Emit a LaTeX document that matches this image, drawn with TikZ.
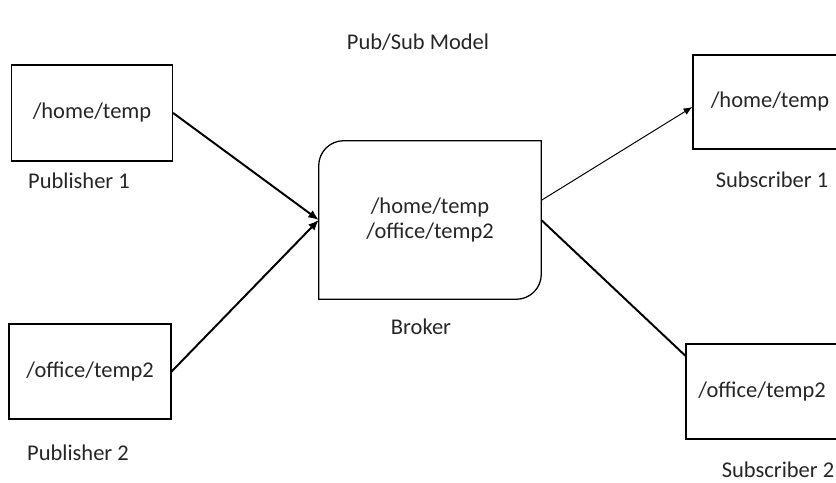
\documentclass[tikz,border=0pt]{standalone}
\usepackage{fontspec}
\setmainfont{Carlito}
\usepackage{tikz}
\usetikzlibrary{positioning,calc}
\usetikzlibrary{arrows.meta}
\tikzstyle{topic} = [rectangle, minimum width=4.05cm, minimum height=2.375cm, text centered, draw=black, line width=0.9pt]
\tikzstyle{brokerbox} = [rectangle, minimum width=5.55cm, minimum height=3.95cm, align=center]
\tikzstyle{etichetta} = [text centered]
\tikzstyle{arrow} = [line width=1.4pt,-{Latex[length=2.6mm,width=2.2mm]}]
\tikzstyle{thinarrow} = [line width=0.7pt,-{Latex[length=2.2mm,width=1.8mm]}]

\begin{document}
\begin{tikzpicture}[font=\fontsize{16}{17.8}\selectfont, text=black!85]
	\path[use as bounding box, clip] (0,0) rectangle (20.9,12.075);
	\node (title) at (10.45,11.025) [etichetta] {Pub/Sub Model};
	% publishers
	\node (pub1) at (2.3,9.25) [topic, minimum width=4.025cm, minimum height=2.4cm] {/home/temp};
	\node (pub1name) at (1.975,7.55) [etichetta] {Publisher 1};
	\node (pub2) at (2.25,2.7875) [topic] {/office/temp2};
	\node (pub2name) at (1.95,0.75) [etichetta] {Publisher 2};
	% broker
	\node (broker) at (10.75,6.575) [brokerbox] {/home/temp\\/office/temp2};
	\draw[line width=0.9pt] ([yshift=-0.625cm]broker.north west) arc[start angle=180,end angle=90,radius=0.625cm] -- (broker.north east) -- ([yshift=0.625cm]broker.south east) arc[start angle=0,end angle=-90,radius=0.625cm] -- (broker.south west) -- cycle;
	\node (brokername) at (10.525,3.9) [etichetta] {Broker};
	% subscribers
	\node (sub1) at (19.25,9.525) [topic, minimum width=3.85cm, minimum height=2.35cm] {/home/temp};
	\node (sub1name) at (19.3,7.575) [etichetta] {Subscriber 1};
	\node (sub2) at (19.05,2.2875) [topic, minimum width=3.8cm] {/office/temp2};
	\node (sub2name) at (19.45,0.325) [etichetta] {Subscriber 2};
	% connections
	\draw [arrow] (pub1.east) -- (broker.west);
	\draw [arrow] (pub2.east) -- (broker.west);
	\draw [thinarrow] (broker.10) -- ($(sub1.west)+(0,-0.125)$);
	\draw [line width=1.4pt] (broker.east) -- (sub2.155);
\end{tikzpicture}
\end{document}
